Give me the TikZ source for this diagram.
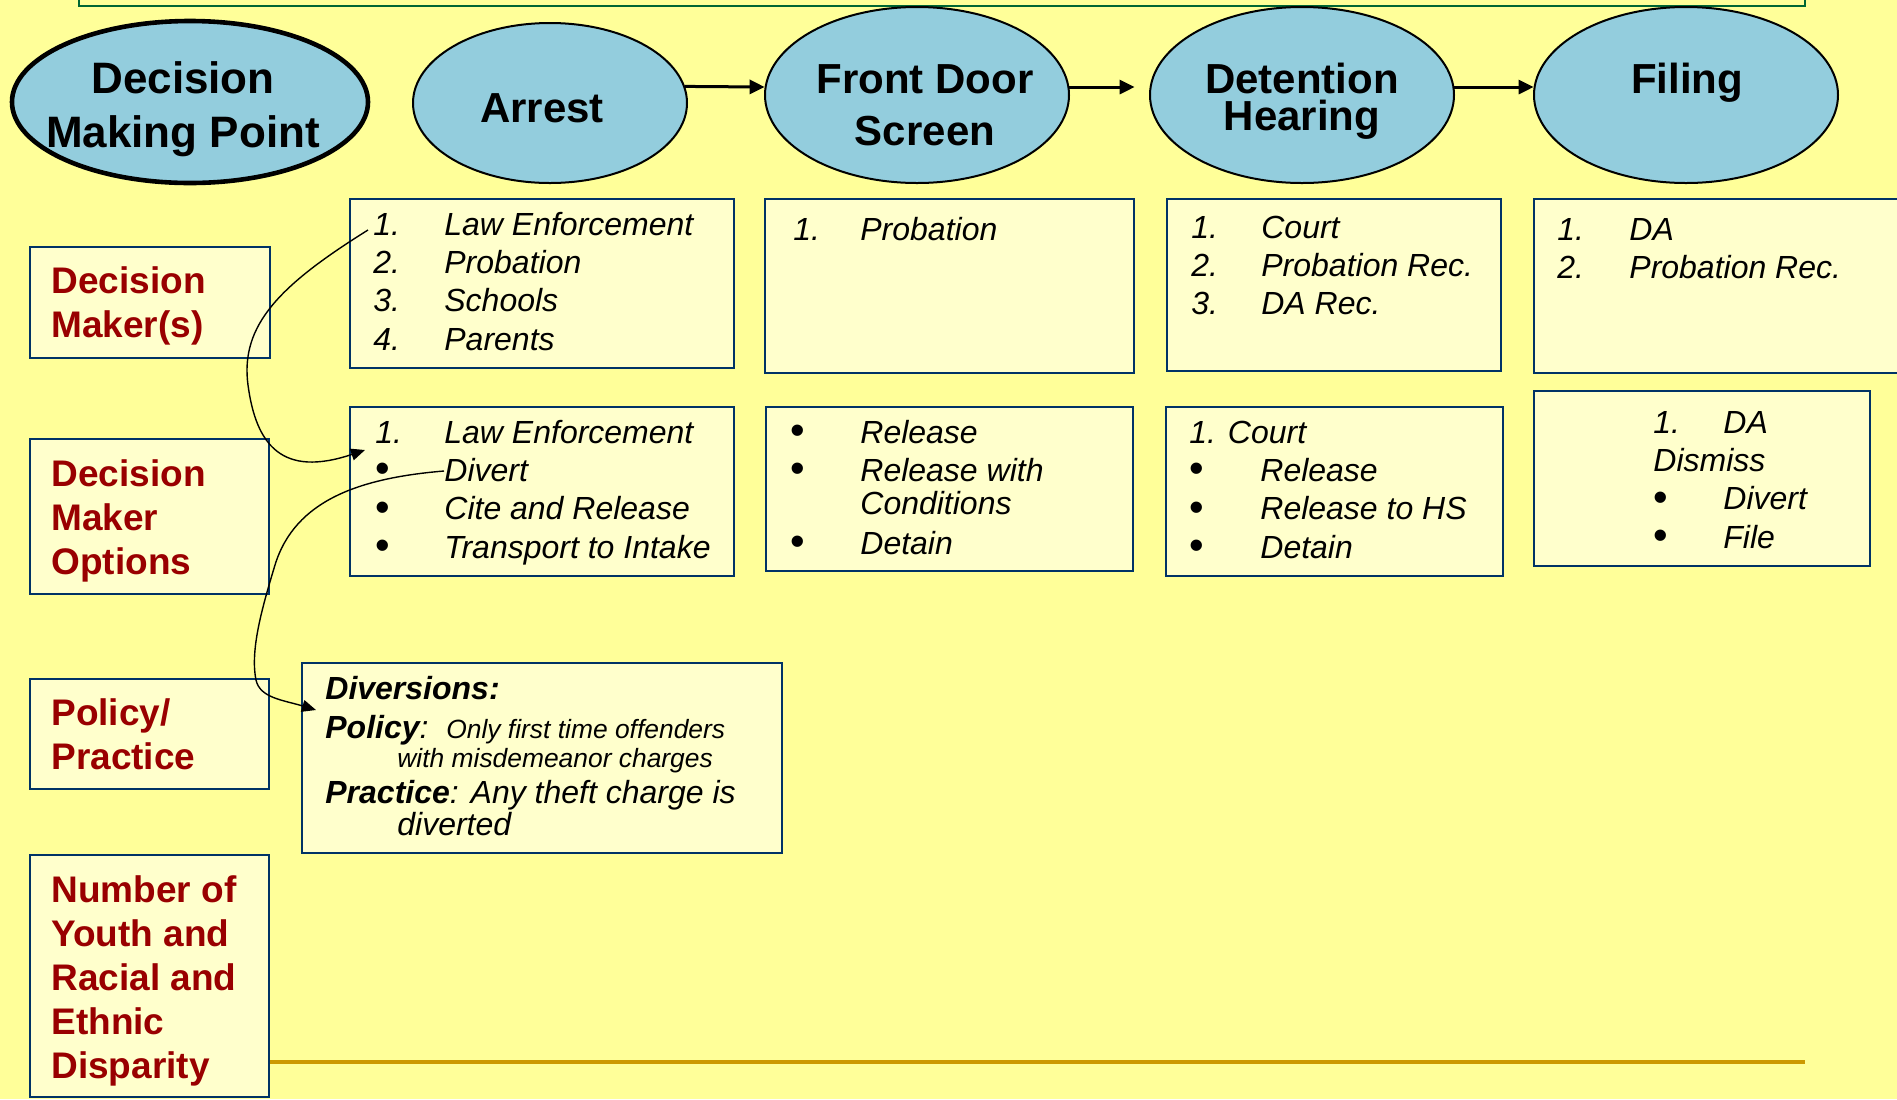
\documentclass[tikz,border=0pt]{standalone}
\usepackage{fontspec}
\usepackage{graphicx}
\setmainfont{Liberation Sans}
\usetikzlibrary{arrows.meta,shapes.geometric,fit}
\definecolor{bgyellow}{RGB}{255,255,153}
\definecolor{boxfill}{RGB}{255,255,204}
\definecolor{navy}{RGB}{0,51,102}
\definecolor{bubblefill}{RGB}{147,205,221}
\definecolor{darkred}{RGB}{153,0,0}
\definecolor{goldline}{RGB}{204,153,0}
\definecolor{titlegreen}{RGB}{0,102,51}
\newcommand\bul{{\upshape\raisebox{-0.6pt}{\scalebox{1.3}{•}}}}
\tikzset{
  panel/.style={rectangle, draw=navy, line width=1pt, fill=boxfill, inner sep=0pt},
  bubble/.style={ellipse, draw=black, line width=1pt, fill=bubblefill, inner sep=0pt},
  bubbletext/.style={inner sep=0pt, anchor=base, font=\fontsize{21}{26}\selectfont\bfseries},
  rowlabel/.style={inner sep=0pt, anchor=base west, text=darkred, font=\fontsize{18.5}{22}\selectfont\bfseries},
  listtext/.style={inner sep=0pt, anchor=base west, font=\fontsize{16}{19.2}\selectfont\itshape},
  flow/.style={-{Triangle[length=7.5pt,width=7pt]}, line width=1.5pt},
  link/.style={-{Triangle[length=7pt,width=6pt]}, line width=0.7pt},
}
\begin{document}
\begin{tikzpicture}[x=0.5pt,y=-0.5pt]
\useasboundingbox (0,0) rectangle (1897,1099);
\clip (0,0) rectangle (1897,1099);
\fill[bgyellow] (0,0) rectangle (1897,1099);

% title frame (cut off at top)
\node[rectangle, draw=titlegreen, line width=1.2pt, inner sep=0pt, fit={(79,-30) (1805,6)}] (titlebar) {};

% bubbles
\node[bubble, line width=2.3pt, minimum width=178pt, minimum height=81pt] (dmp) at (190,102) {};
\node[bubble, minimum width=137pt, minimum height=80pt] (arrest) at (550,103) {};
\node[bubble, minimum width=152pt, minimum height=88pt] (fds) at (917,95) {};
\node[bubble, minimum width=152pt, minimum height=88pt] (dh) at (1302,95) {};
\node[bubble, minimum width=152pt, minimum height=88pt] (filing) at (1686,95) {};

\node[bubbletext, font=\fontsize{22}{27}\selectfont\bfseries] (tdmp) at (183,93) {\begin{tabular}[t]{@{}c@{}}Decision\\Making Point\end{tabular}};
\node[bubbletext] (tarrest) at (542,122) {Arrest};
\node[bubbletext] (tfds) at (925,93) {\begin{tabular}[t]{@{}c@{}}Front Door\\Screen\end{tabular}};
\node[bubbletext] (tdh) at (1302,93) {\begin{tabular}[t]{@{}c@{}}Detention\\[-7.3pt]Hearing\end{tabular}};
\node[bubbletext] (tfiling) at (1687,93) {Filing};

\draw[flow] (arrest.7) -- (fds.177);
\draw[flow, shorten >=7.5pt] (fds.3) -- (dh.177);
\draw[flow] (dh.3) -- (filing.177);

% row label boxes
\node[panel, fit={(30,247) (270,358)}] (lbmakers) {};
\node[panel, fit={(30,439) (269,594)}] (lboptions) {};
\node[panel, fit={(30,679) (269,789)}] (lbpolicy) {};
\node[panel, fit={(30,855) (269,1097)}] (lbnumber) {};

\node[rowlabel] (tmakers) at (51,293) {\begin{tabular}[t]{@{}l@{}}Decision\\Maker(s)\end{tabular}};
\node[rowlabel] (toptions) at (51,486) {\begin{tabular}[t]{@{}l@{}}Decision\\Maker\\Options\end{tabular}};
\node[rowlabel] (tpolicy) at (51,725) {\begin{tabular}[t]{@{}l@{}}Policy/\\Practice\end{tabular}};
\node[rowlabel] (tnumber) at (51,902) {\begin{tabular}[t]{@{}l@{}}Number of\\Youth and\\Racial and\\Ethnic\\Disparity\end{tabular}};

% decision makers row
\node[panel, fit={(350,199) (734,368)}] (armk) {};
\node[panel, fit={(765,199) (1134,373)}] (fdmk) {};
\node[panel, fit={(1167,199) (1501,371)}] (dhmk) {};
\node[panel, fit={(1534,199) (1915,373)}] (fimk) {};

\node[listtext] (armkt) at (373,235) {\begin{tabular}[t]{@{}p{35.5pt}@{}l@{}}1. & Law Enforcement\\ 2. & Probation\\ 3. & Schools\\ 4. & Parents\end{tabular}};
\node[listtext] (fdmkt) at (793,240) {\begin{tabular}[t]{@{}p{33.5pt}@{}l@{}}1. & Probation\end{tabular}};
\node[listtext] (dhmkt) at (1191,238) {\begin{tabular}[t]{@{}p{35pt}@{}l@{}}1. & Court\\ 2. & Probation Rec.\\ 3. & DA Rec.\end{tabular}};
\node[listtext] (fimkt) at (1557,240) {\begin{tabular}[t]{@{}p{36pt}@{}l@{}}1. & DA\\ 2. & Probation Rec.\end{tabular}};

% options row
\node[panel, fit={(350,407) (734,576)}] (aropt) {};
\node[panel, fit={(766,407) (1133,571)}] (fdopt) {};
\node[panel, fit={(1166,407) (1503,576)}] (dhopt) {};
\node[panel, fit={(1534,391) (1870,566)}] (fiopt) {};

\node[listtext] (aroptt) at (375,443) {\begin{tabular}[t]{@{}p{34.5pt}@{}l@{}}1. & Law Enforcement\\ \bul & Divert\\ \bul & Cite and Release\\ \bul & Transport to Intake\end{tabular}};
\node[listtext] (fdoptt) at (790,443) {\begin{tabular}[t]{@{}p{35pt}@{}l@{}}\bul & Release\\ \bul & Release with\\[-2.7pt] & Conditions\\[0.8pt] \bul & Detain\end{tabular}};
\node[listtext] (dhoptt) at (1189,443) {\begin{tabular}[t]{@{}p{35.5pt}@{}l@{}}\multicolumn{2}{@{}l@{}}{1. Court}\\ \bul & Release\\ \bul & Release to HS\\ \bul & Detain\end{tabular}};
\node[listtext] (fioptt) at (1653,433) {\begin{tabular}[t]{@{}p{35pt}@{}l@{}}1. & DA\\ \multicolumn{2}{@{}l@{}}{Dismiss}\\ \bul & Divert\\ \bul & File\end{tabular}};

% policy / practice
\node[panel, fit={(302,663) (782,853)}] (divbox) {};
\node[listtext, font=\fontsize{16}{19.5}\selectfont\itshape] (divt) at (325,699) {\begin{tabular}[t]{@{}l@{}}
\textbf{Diversions:}\\
\makebox[60.5pt][l]{\textbf{Policy}:}{\fontsize{13.2}{15}\selectfont Only first time offenders}\\[-5pt]
\hspace*{36pt}{\fontsize{13.2}{15}\selectfont with misdemeanor charges}\\[-1.5pt]
\textbf{Practice}: Any theft charge is\\[-3.5pt]
\hspace*{36pt}diverted
\end{tabular}};

% bottom rule
\coordinate (ruleend) at (1805,1062);
\draw[goldline, line width=2pt] (lbnumber.east |- ruleend) -- (ruleend);

% curved connectors
\coordinate (c1s) at (368,230);
\coordinate (c1e) at (365,450);
\coordinate (c2s) at (444,471);
\coordinate (c2e) at (316,710);
\draw[link] (c1s) .. controls (280,285) and (240,325) .. (248,385)
               .. controls (256,445) and (282,478) .. (c1e);
\draw[link] (c2s) .. controls (360,478) and (295,500) .. (275,565)
               .. controls (262,608) and (250,650) .. (256,680)
               .. controls (260,698) and (283,700) .. (c2e);
\end{tikzpicture}
\end{document}
